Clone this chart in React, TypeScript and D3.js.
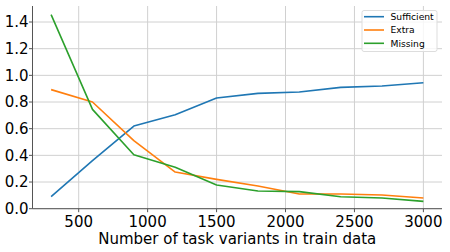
import React from 'react';
import { scaleLinear, line } from 'd3';

const variants = [300, 600, 900, 1200, 1500, 1800, 2100, 2400, 2700, 3000];
const sufficient = [0.09, 0.36, 0.62, 0.705, 0.83, 0.865, 0.875, 0.91, 0.92, 0.945];
const extra = [0.893, 0.80, 0.51, 0.275, 0.22, 0.17, 0.11, 0.11, 0.103, 0.08];
const missing = [1.455, 0.745, 0.405, 0.31, 0.178, 0.133, 0.128, 0.09, 0.08, 0.055];
const xTicks = [500, 1000, 1500, 2000, 2500, 3000];
const yTicks = [0, 0.2, 0.4, 0.6, 0.8, 1.0, 1.2, 1.4];

const series = [
  { name: 'Sufficient', values: sufficient, color: '#1f77b4' },
  { name: 'Extra', values: extra, color: '#ff7f0e' },
  { name: 'Missing', values: missing, color: '#2ca02c' },
];

const W = 450;
const H = 252;
const font = '"DejaVu Sans", sans-serif';

const App = () => {
  const x = scaleLinear().domain([165, 3135]).range([32.5, 442]);
  const y = scaleLinear().domain([0, 1.52]).range([208.7, 6]);
  const path = line<number>()
    .x((d, i) => x(variants[i]))
    .y(d => y(d));

  return (
    <svg width={W} height={H} style={{ position: 'absolute', left: 0, top: 0, background: '#fff' }}>
      {/* grid */}
      {xTicks.map(t => (
        <line key={'gx' + t} x1={x(t)} x2={x(t)} y1={y.range()[1]} y2={y(0)} stroke="#d0d0d0" strokeWidth={1} />
      ))}
      {yTicks.map(t => (
        <line key={'gy' + t} x1={x.range()[0]} x2={x.range()[1]} y1={y(t)} y2={y(t)} stroke="#d0d0d0" strokeWidth={1} />
      ))}

      {/* lines */}
      {series.map(s => (
        <path key={s.name} d={path(s.values) || ''} fill="none" stroke={s.color} strokeWidth={1.6} strokeLinejoin="round" />
      ))}

      {/* spines */}
      <line x1={x.range()[0]} x2={x.range()[0]} y1={y.range()[1]} y2={y(0)} stroke="#555" strokeWidth={1} />
      <line x1={x.range()[0]} x2={x.range()[1]} y1={y(0)} y2={y(0)} stroke="#555" strokeWidth={1} />

      {/* y ticks */}
      {yTicks.map(t => (
        <g key={'yt' + t}>
          <line x1={x.range()[0] - 3.5} x2={x.range()[0]} y1={y(t)} y2={y(t)} stroke="#555" />
          <text x={28.5} y={y(t)} dy="0.36em" textAnchor="end" fontFamily={font} fontSize={15} fill="#000">
            {t.toFixed(1)}
          </text>
        </g>
      ))}

      {/* x ticks */}
      {xTicks.map(t => (
        <g key={'xt' + t}>
          <line x1={x(t)} x2={x(t)} y1={y(0)} y2={y(0) + 3.5} stroke="#555" />
          <text x={x(t)} y={226.5} textAnchor="middle" fontFamily={font} fontSize={15} fill="#000">
            {t}
          </text>
        </g>
      ))}

      <text x={(x.range()[0] + x.range()[1]) / 2} y={243.5} textAnchor="middle" fontFamily={font} fontSize={15} fill="#000">
        Number of task variants in train data
      </text>

      {/* legend */}
      <rect x={362} y={10.5} width={75} height={41} rx={2} fill="#fff" fillOpacity={0.8} stroke="#ddd" />
      {series.map((s, i) => (
        <g key={'lg' + s.name}>
          <line x1={364} x2={384} y1={16.7 + i * 13.3} y2={16.7 + i * 13.3} stroke={s.color} strokeWidth={1.6} />
          <text x={390.5} y={16.7 + i * 13.3} dy="0.36em" fontFamily={font} fontSize={9.2} fill="#000">
            {s.name}
          </text>
        </g>
      ))}
    </svg>
  );
};

export default App;
